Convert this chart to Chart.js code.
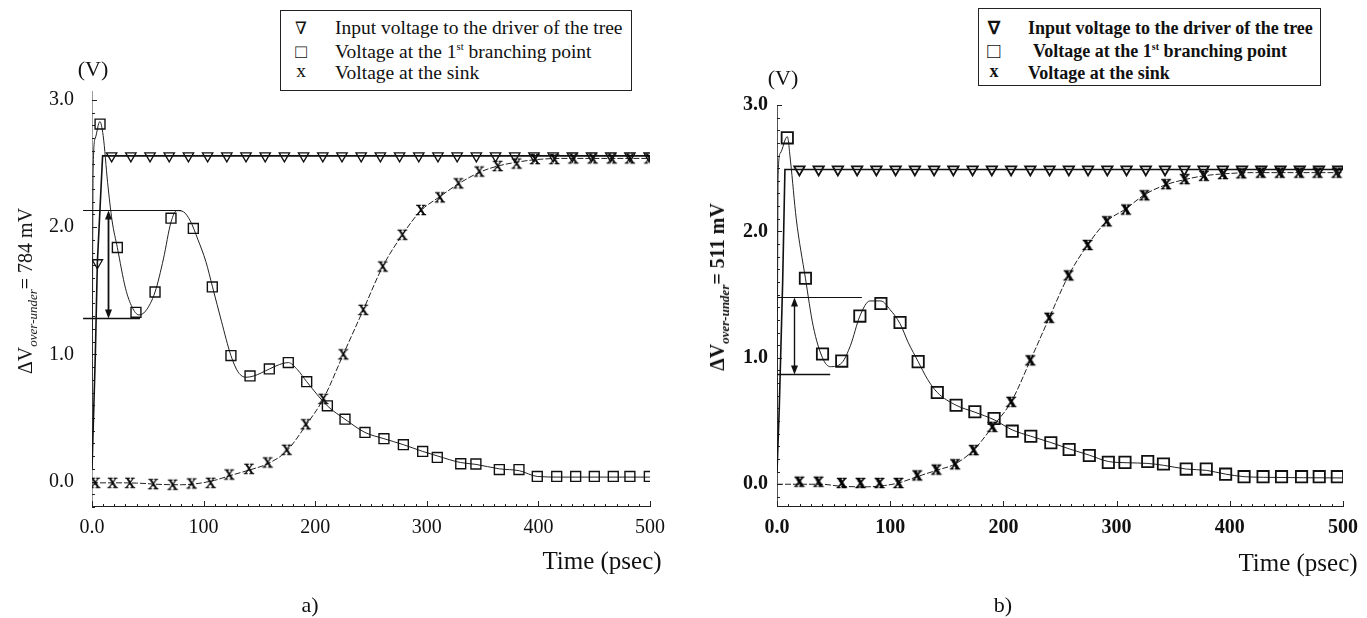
<!DOCTYPE html>
<html>
<head>
<meta charset="utf-8">
<script src="https://cdn.jsdelivr.net/npm/chart.js@4.4.1/dist/chart.umd.min.js"></script>
<style>
  body { margin:0; width:1367px; height:618px; background:#fff; position:relative; overflow:hidden;
         font-family:'Liberation Serif','Times New Roman',serif; color:#111; }
  canvas { position:absolute; top:0; }
  #chartA { left:0; }
  #chartB { left:683px; }
  .txt { position:absolute; white-space:nowrap; transform:translate(-50%,-50%); line-height:1; }
  .ytitle { transform:translate(-50%,-50%) rotate(-90deg); font-size:20px; }
  .ytitle i { font-size:13px; position:relative; top:5px; }
  .legend { position:absolute; border:1.5px solid #222; background:#fff; box-sizing:border-box; }
  .legend .sym { position:absolute; transform:translate(-50%,-50%); line-height:1; }
  .legend .lab { position:absolute; transform:translateY(-50%); white-space:nowrap; line-height:1; }
  .legend sup { font-size:0.55em; vertical-align:0.7em; }
  .bold { font-weight:bold; }
</style>
</head>
<body>
<canvas id="chartA" width="683" height="618"></canvas>
<canvas id="chartB" width="684" height="618"></canvas>

<div class="legend" style="left:280px;top:10px;width:352px;height:81px;font-size:19.5px;">
  <span class="sym" style="left:20px;top:17px;font-weight:normal;font-family:'DejaVu Serif','Liberation Serif',serif;font-size:17px;">&#8711;</span><span class="lab" style="left:54px;top:17px;">Input voltage to the driver of the tree</span>
  <span class="sym" style="left:20px;top:40px;font-size:19px;">&#9633;</span><span class="lab" style="left:54px;top:40px;">Voltage at the 1<sup>st</sup> branching point</span>
  <span class="sym" style="left:20px;top:60px;">x</span><span class="lab" style="left:54px;top:62px;">Voltage at the sink</span>
</div>
<div class="legend bold" style="left:978px;top:8px;width:343px;height:78px;font-size:18px;">
  <span class="sym" style="left:15px;top:19px;">&#8711;</span><span class="lab" style="left:49px;top:19px;">Input voltage to the driver of the tree</span>
  <span class="sym" style="left:15px;top:42px;font-size:22px;font-weight:normal;">&#9633;</span><span class="lab" style="left:54px;top:42px;">Voltage at the 1<sup>st</sup> branching point</span>
  <span class="sym" style="left:15px;top:62px;">x</span><span class="lab" style="left:49px;top:64px;">Voltage at the sink</span>
</div>

<div class="txt" style="left:93px;top:69px;font-size:22px;">(V)</div>
<div class="txt" style="left:783px;top:78px;font-size:22px;">(V)</div>
<div class="txt ytitle" style="left:25px;top:291px;">&Delta;V<i>over-under</i>= 784 mV</div>
<div class="txt ytitle bold" style="left:717px;top:287px;">&Delta;V<i>over-under</i>= 511 mV</div>
<div class="txt" style="left:602px;top:560px;font-size:25px;">Time (psec)</div>
<div class="txt" style="left:1298px;top:562px;font-size:25px;">Time (psec)</div>
<div class="txt" style="left:310px;top:605px;font-size:22px;">a)</div>
<div class="txt" style="left:1003px;top:605px;font-size:22px;">b)</div>

<script>
// ---- shared ticks
const xTicks = [0, 100, 200, 300, 400, 500];
const yTicks = [0, 1, 2, 3];

// ---- chart a) markers
const aInputT = [4.8, 17.6, 34.8, 52.0, 69.2, 86.4, 103.6, 120.8, 138.0, 155.2, 172.4, 189.6, 206.8, 224.0, 241.2, 258.4, 275.6, 292.8, 310.0, 327.2, 344.4, 361.6, 378.8, 396.0, 413.2, 430.4, 447.6, 464.8, 482.0, 499.2];
const aInputV = [1.72, 2.56, 2.56, 2.56, 2.56, 2.56, 2.56, 2.56, 2.56, 2.56, 2.56, 2.56, 2.56, 2.56, 2.56, 2.56, 2.56, 2.56, 2.56, 2.56, 2.56, 2.56, 2.56, 2.56, 2.56, 2.56, 2.56, 2.56, 2.56, 2.56];
const aBranchT = [7.2, 22.7, 39.4, 56.5, 70.8, 90.8, 107.8, 124.5, 141.6, 158.9, 175.9, 192.4, 210.9, 226.7, 244.6, 261.6, 279.0, 296.3, 309.4, 330.4, 344.0, 365.0, 382.6, 399.0, 416.4, 433.4, 450.1, 467.1, 482.0, 499.4];
const aBranchV = [2.81, 1.84, 1.33, 1.49, 2.07, 1.99, 1.53, 0.99, 0.83, 0.885, 0.935, 0.785, 0.595, 0.49, 0.386, 0.337, 0.29, 0.237, 0.19, 0.14, 0.138, 0.094, 0.094, 0.04, 0.04, 0.04, 0.04, 0.04, 0.04, 0.04];
const aSinkT = [2.9, 18.5, 34.1, 54.9, 72.3, 89.3, 106.3, 123.0, 140.7, 157.4, 174.4, 191.5, 207.3, 225.2, 243.1, 260.5, 278.1, 294.8, 311.8, 328.3, 347.0, 363.5, 380.5, 396.9, 414.3, 431.3, 448.6, 465.7, 482.0, 499.4];
const aSinkV = [-0.01, -0.01, -0.01, -0.02, -0.025, -0.015, -0.01, 0.055, 0.10, 0.15, 0.25, 0.45, 0.65, 1.0, 1.35, 1.69, 1.94, 2.135, 2.234, 2.344, 2.437, 2.48, 2.50, 2.535, 2.535, 2.54, 2.54, 2.54, 2.54, 2.54];
// ---- chart a) simulated curves
const aInputCurveT = [0, 3, 4.8, 9.5, 500];
const aInputCurveV = [0.1, 1.0, 1.72, 2.56, 2.56];
const aBranchCurveT = [0, 1, 3, 7, 10, 14, 18, 22.7, 30, 36, 42, 48, 56.5, 64, 70.8, 76, 82, 88, 95, 102, 108, 116, 124.5, 131, 138, 145, 159, 168, 176, 184, 192.4, 210.9, 226.7, 244.6, 261.6, 279, 296.3, 310, 330, 344, 365, 383, 399, 420, 500];
const aBranchCurveV = [0.1, 2.45, 2.7, 2.83, 2.72, 2.35, 2.05, 1.84, 1.52, 1.37, 1.31, 1.34, 1.49, 1.75, 2.04, 2.13, 2.12, 2.05, 1.9, 1.73, 1.53, 1.26, 0.99, 0.86, 0.82, 0.83, 0.885, 0.92, 0.935, 0.88, 0.785, 0.595, 0.49, 0.386, 0.337, 0.29, 0.237, 0.2, 0.15, 0.135, 0.1, 0.085, 0.04, 0.035, 0.035];
const aSinkCurveT = [0, 20, 40, 60, 80, 95, 110, 123, 140.7, 157.4, 174.4, 191.5, 207.3, 225.2, 243.1, 260.5, 278.1, 294.8, 311.8, 328.3, 347, 363.5, 380.5, 397, 420, 450, 500];
const aSinkCurveV = [-0.01, -0.01, -0.012, -0.022, -0.025, -0.015, 0.01, 0.045, 0.09, 0.14, 0.24, 0.44, 0.65, 1.0, 1.35, 1.69, 1.94, 2.13, 2.24, 2.34, 2.43, 2.48, 2.51, 2.53, 2.54, 2.54, 2.54];

// ---- chart b) markers
const bInputT = [19.8, 36.8, 53.8, 70.8, 87.8, 104.8, 121.8, 138.8, 155.8, 172.8, 189.8, 206.8, 223.8, 240.8, 257.8, 274.8, 291.8, 308.8, 325.8, 342.8, 359.8, 376.8, 393.8, 410.8, 427.8, 444.8, 461.8, 478.8, 495.8];
const bInputV = [2.49, 2.49, 2.49, 2.49, 2.49, 2.49, 2.49, 2.49, 2.49, 2.49, 2.49, 2.49, 2.49, 2.49, 2.49, 2.49, 2.49, 2.49, 2.49, 2.49, 2.49, 2.49, 2.49, 2.49, 2.49, 2.49, 2.49, 2.49, 2.49];
const bBranchT = [9.1, 25.1, 40.2, 57.2, 73.2, 91.8, 108.7, 124.7, 141.6, 158.2, 174.8, 191.8, 207.8, 224.2, 241.9, 258.1, 275.9, 292.7, 307.4, 327.5, 341.4, 361.5, 379.2, 396.3, 412.6, 429.4, 445.7, 463.4, 479.0, 495.0];
const bBranchV = [2.74, 1.63, 1.03, 0.974, 1.33, 1.43, 1.28, 0.97, 0.726, 0.625, 0.573, 0.52, 0.42, 0.38, 0.328, 0.275, 0.227, 0.173, 0.173, 0.18, 0.16, 0.12, 0.12, 0.08, 0.06, 0.06, 0.06, 0.06, 0.06, 0.06];
const bSinkT = [19.8, 36.7, 57.2, 73.8, 90.6, 107.3, 123.9, 140.8, 157.3, 173.7, 190.3, 206.9, 223.8, 240.5, 257.6, 274.4, 291.3, 308.3, 324.6, 343.8, 360.1, 377.2, 394.0, 410.2, 427.4, 444.2, 461.3, 477.5, 494.4];
const bSinkV = [0.02, 0.02, 0.01, 0.01, 0.01, 0.01, 0.07, 0.116, 0.158, 0.27, 0.454, 0.652, 0.98, 1.317, 1.652, 1.893, 2.08, 2.173, 2.286, 2.374, 2.414, 2.44, 2.454, 2.46, 2.465, 2.465, 2.465, 2.465, 2.465];
// ---- chart b) simulated curves
const bInputCurveT = [0, 2, 5, 7, 500];
const bInputCurveV = [0.1, 0.6, 1.6, 2.49, 2.49];
const bBranchCurveT = [0, 1, 3, 9.1, 12, 17, 25.1, 32, 40.2, 47, 57.2, 65, 73.2, 82, 91.8, 100, 108.7, 116, 124.7, 133, 141.6, 158.2, 174.8, 191.8, 207.8, 224.2, 241.9, 258.1, 275.9, 292.7, 310, 327, 341.4, 361.5, 379.2, 396.3, 412.6, 430, 500];
const bBranchCurveV = [0.1, 2.45, 2.62, 2.75, 2.55, 2.1, 1.63, 1.25, 1.0, 0.93, 0.96, 1.1, 1.33, 1.45, 1.45, 1.38, 1.27, 1.12, 0.97, 0.83, 0.726, 0.625, 0.57, 0.51, 0.43, 0.38, 0.33, 0.28, 0.23, 0.18, 0.17, 0.165, 0.15, 0.12, 0.11, 0.08, 0.06, 0.055, 0.05];
const bSinkCurveT = [0, 40, 55, 80, 95, 107.3, 123.9, 140.8, 157.3, 173.7, 190.3, 206.9, 223.8, 240.5, 257.6, 274.4, 291.3, 308.3, 324.6, 343.8, 360.1, 377.2, 394, 420, 500];
const bSinkCurveV = [0, 0, -0.015, -0.02, -0.01, 0.01, 0.06, 0.11, 0.16, 0.27, 0.454, 0.652, 0.98, 1.317, 1.652, 1.893, 2.08, 2.18, 2.29, 2.37, 2.41, 2.44, 2.455, 2.465, 2.465];

// over/under-shoot marks: level lines and arrow
const aOverUnder = { hi: 2.135, lo: 1.287, hiEnd: 80, loEnd: 43, start: -8, arrowAt: 14.6 };
const bOverUnder = { hi: 1.478, lo: 0.876, hiEnd: 75, loEnd: 47, start: 0, arrowAt: 14.6 };

const pts = (t, v) => t.map((x, i) => ({ x, y: v[i] }));

// serif "x" glyph used as the sink marker
function xGlyph(font, weight) {
    const c = document.createElement('canvas');
    c.width = 18; c.height = 18;
    const g = c.getContext('2d');
    g.font = font;
    g.fillStyle = '#000';
    g.strokeStyle = '#000';
    g.lineWidth = weight;
    g.textAlign = 'center';
    g.textBaseline = 'alphabetic';
    g.fillText('x', 9, 13.8);
    g.strokeText('x', 9, 13.8);
    return c;
}

function seg(ctx, x0, y0, x1, y1) {
    ctx.beginPath(); ctx.moveTo(x0, y0); ctx.lineTo(x1, y1); ctx.stroke();
}

const frame = {
    id: 'frame',
    beforeDatasetsDraw(chart, args, o) {
        const { ctx, chartArea: a, scales: { x, y } } = chart;
        ctx.save();
        ctx.lineWidth = 1;
        ctx.strokeStyle = o.yColor;
        seg(ctx, a.left + 0.5, a.top, a.left + 0.5, a.bottom);
        ctx.strokeStyle = '#222';
        seg(ctx, a.left, a.bottom - 0.5, a.right, a.bottom - 0.5);
        for (let k = Math.ceil(y.min * 10); k <= Math.floor(y.max * 10); k++) {
            const py = Math.round(y.getPixelForValue(k / 10)) + 0.5;
            seg(ctx, a.left, py, a.left + (k % 10 === 0 ? 5 : 3), py);
        }
        for (let k = 0; k <= 50; k++) {
            const px = Math.round(x.getPixelForValue(k * 10)) + 0.5;
            seg(ctx, px, a.bottom, px, a.bottom - (k % 10 === 0 ? 6 : 3));
        }
        ctx.restore();
    },
    afterDatasetsDraw(chart, args, o) {
        const { ctx, scales: { x, y } } = chart;
        const m = o.marks;
        ctx.save();
        ctx.strokeStyle = '#111';
        ctx.fillStyle = '#111';
        ctx.lineWidth = 1;
        const x0 = x.getPixelForValue(m.start);
        const yh = Math.round(y.getPixelForValue(m.hi)) + 0.5;
        const yl = Math.round(y.getPixelForValue(m.lo)) + 0.5;
        seg(ctx, x0, yh, x.getPixelForValue(m.hiEnd), yh);
        ctx.lineWidth = 1.4;
        seg(ctx, x0, yl, x.getPixelForValue(m.loEnd), yl);
        const ax = Math.round(x.getPixelForValue(m.arrowAt)) + 0.5;
        ctx.lineWidth = o.arrowWidth;
        seg(ctx, ax, yh + 4, ax, yl - 4);
        [[yh, 1], [yl, -1]].forEach(([py, d]) => {
            ctx.beginPath();
            ctx.moveTo(ax, py);
            ctx.lineTo(ax - 3.5, py + d * 9);
            ctx.lineTo(ax + 3.5, py + d * 9);
            ctx.closePath();
            ctx.fill();
        });
        ctx.restore();
    }
};

function buildChart(id, s) {
    const tickFont = { family: "'Liberation Serif', 'Times New Roman', serif", size: 20, weight: s.bold ? 'bold' : 'normal' };
    const sinkGlyph = s.bold ? xGlyph("bold 20px 'Liberation Serif'", 0.6) : xGlyph("21px 'Liberation Serif'", 0.4);
    return new Chart(document.getElementById(id), {
        type: 'line',
        data: {
            datasets: [
                { data: pts(s.inCT, s.inCV), borderColor: '#111', borderWidth: 1.6, pointRadius: 0, tension: 0, order: 2 },
                { data: pts(s.brCT, s.brCV), borderColor: '#222', borderWidth: 1, pointRadius: 0, cubicInterpolationMode: 'monotone', order: 2 },
                { data: pts(s.skCT, s.skCV), borderColor: '#222', borderWidth: 1, borderDash: [6, 2], pointRadius: 0, cubicInterpolationMode: 'monotone', order: 2 },
                { data: pts(s.inT, s.inV), showLine: false, pointStyle: 'triangle', pointRotation: 180, pointRadius: 6,
                  pointBorderColor: '#111', pointBackgroundColor: 'rgba(0,0,0,0)', pointBorderWidth: s.bold ? 1.8 : 1.3, order: 0 },
                { data: pts(s.brT, s.brV), showLine: false, pointStyle: 'rect', pointRadius: s.bold ? 8 : 7,
                  pointBorderColor: '#111', pointBackgroundColor: 'rgba(0,0,0,0)', pointBorderWidth: s.bold ? 1.8 : 1.4, order: 0 },
                { data: pts(s.skT, s.skV), showLine: false, pointStyle: sinkGlyph, pointRadius: 6, order: 0 }
            ]
        },
        options: {
            responsive: false,
            animation: false,
            events: [],
            layout: { padding: { top: s.padTop, right: s.padRight, left: 0, bottom: 0 } },
            plugins: {
                legend: { display: false },
                tooltip: { enabled: false },
                frame: { yColor: s.yColor, marks: s.marks, arrowWidth: s.bold ? 1.4 : 1.8 }
            },
            scales: {
                x: {
                    type: 'linear', min: 0, max: 500,
                    grid: { display: false, drawTicks: false },
                    border: { display: false },
                    afterBuildTicks: sc => { sc.ticks = xTicks.map(v => ({ value: v })); },
                    afterFit: sc => { sc.height = 111; },
                    ticks: { padding: 9, color: '#111', font: tickFont, maxRotation: 0,
                             callback: v => v === 0 ? '0.0' : String(v) }
                },
                y: {
                    type: 'linear', min: s.yMin, max: s.yMax,
                    grid: { display: false, drawTicks: false },
                    border: { display: false },
                    afterBuildTicks: sc => { sc.ticks = yTicks.map(v => ({ value: v })); },
                    afterFit: sc => { sc.width = s.yWidth; },
                    ticks: { padding: s.yPad, color: '#111', font: tickFont, callback: v => v.toFixed(1) }
                }
            }
        },
        plugins: [frame]
    });
}

buildChart('chartA', {
    inT: aInputT, inV: aInputV, brT: aBranchT, brV: aBranchV, skT: aSinkT, skV: aSinkV,
    inCT: aInputCurveT, inCV: aInputCurveV, brCT: aBranchCurveT, brCV: aBranchCurveV, skCT: aSinkCurveT, skCV: aSinkCurveV,
    marks: aOverUnder, yMin: -0.2, yMax: 3.07, padTop: 91, padRight: 33, yWidth: 92, yPad: 18, yColor: '#9a9a9a', bold: false
});
buildChart('chartB', {
    inT: bInputT, inV: bInputV, brT: bBranchT, brV: bBranchV, skT: bSinkT, skV: bSinkV,
    inCT: bInputCurveT, inCV: bInputCurveV, brCT: bBranchCurveT, brCV: bBranchCurveV, skCT: bSinkCurveT, skCV: bSinkCurveV,
    marks: bOverUnder, yMin: -0.18, yMax: 3.0, padTop: 105, padRight: 18, yWidth: 94, yPad: 9, yColor: '#555', bold: true
});
</script>
</body>
</html>
